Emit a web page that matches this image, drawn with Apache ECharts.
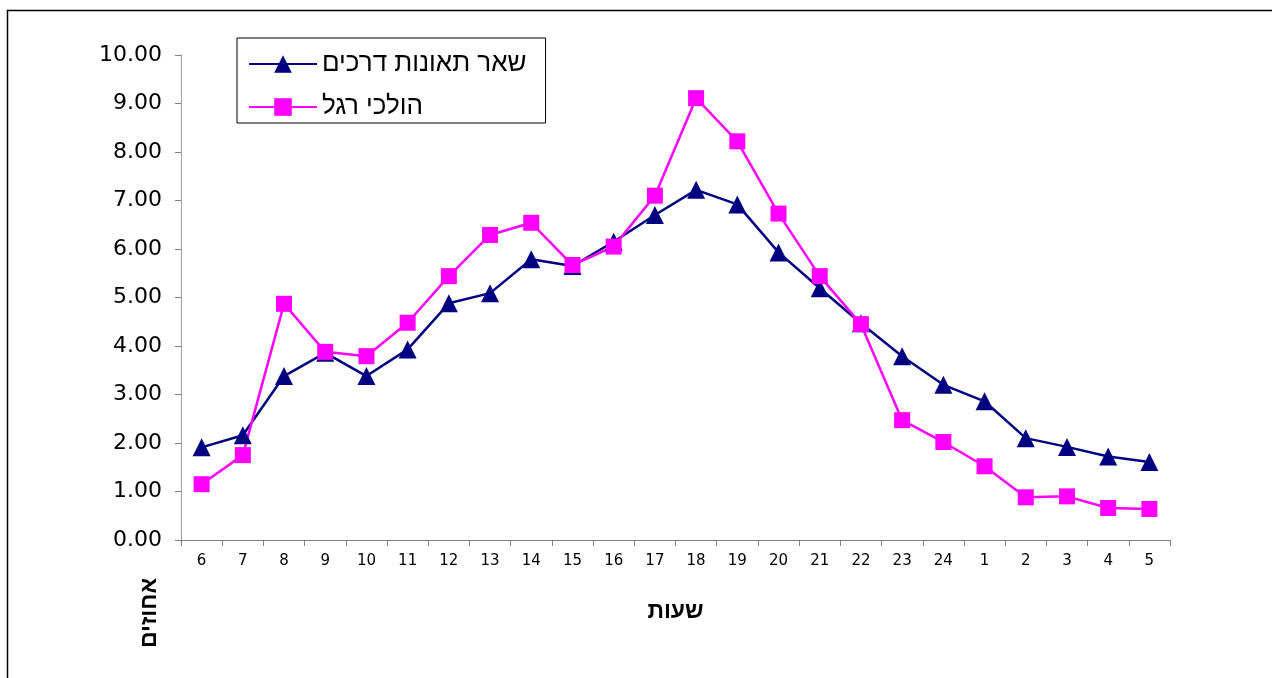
<!DOCTYPE html>
<html>
<head>
<meta charset="utf-8">
<script src="https://cdn.jsdelivr.net/npm/echarts@6/dist/echarts.min.js"></script>
<style>
  html, body { margin: 0; padding: 0; background: #fff; }
  #chart { width: 1272px; height: 678px; }
</style>
</head>
<body>
<div id="chart"></div>
<script>
const hours = ['6', '7', '8', '9', '10', '11', '12', '13', '14', '15', '16', '17',
    '18', '19', '20', '21', '22', '23', '24', '1', '2', '3', '4', '5'];
// שאר תאונות דרכים
const otherAccidents = [1.91, 2.16, 3.38, 3.86, 3.38, 3.93, 4.88, 5.09, 5.79, 5.65, 6.15, 6.70,
    7.22, 6.92, 5.93, 5.19, 4.47, 3.79, 3.20, 2.86, 2.10, 1.92, 1.72, 1.61];
// הולכי רגל
const pedestrians = [1.15, 1.75, 4.87, 3.88, 3.79, 4.48, 5.44, 6.29, 6.54, 5.67, 6.05, 7.10,
    9.11, 8.22, 6.73, 5.44, 4.45, 2.47, 2.02, 1.52, 0.88, 0.90, 0.66, 0.64];

const numFont = "'DejaVu Sans', 'Liberation Sans', Arial, sans-serif";
const hebFont = "'Liberation Sans', 'DejaVu Sans', Arial, sans-serif";
const chart = echarts.init(document.getElementById('chart'));

chart.setOption({
    animation: false,
    textStyle: { fontFamily: numFont },
    grid: { left: 181, right: 102, top: 55, bottom: 138 },
    // outer frame and rotated y title
    graphic: [
        {
            type: 'rect',
            left: 5, top: 8,
            shape: { width: 1400, height: 800 },
            style: { fill: 'none', stroke: '#000', lineWidth: 1.5 }
        },
        {
            type: 'text',
            x: 150, y: 613,
            rotation: Math.PI / 2,
            style: {
                text: 'אחוזים',
                font: 'bold 23px ' + hebFont,
                fill: '#000',
                align: 'center',
                verticalAlign: 'middle'
            }
        }
    ],
    legend: {
        orient: 'vertical',
        left: 237, top: 38,
        padding: [13, 19, 3, 11],
        itemGap: 17,
        itemWidth: 68,
        itemHeight: 22,
        borderColor: '#000',
        borderWidth: 1,
        textStyle: { fontSize: 26, lineHeight: 26, color: '#000', fontFamily: hebFont },
        data: ['שאר תאונות דרכים', 'הולכי רגל']
    },
    xAxis: {
        type: 'category',
        data: hours,
        boundaryGap: true,
        name: 'שעות',
        nameLocation: 'middle',
        nameGap: 60,
        nameTextStyle: { fontSize: 23, fontWeight: 'bold', color: '#000', fontFamily: hebFont },
        axisLine: { lineStyle: { color: '#808080', width: 1 } },
        axisTick: { show: true, length: 6, lineStyle: { color: '#808080' } },
        axisLabel: { fontSize: 15, color: '#000', margin: 14 }
    },
    yAxis: {
        type: 'value',
        min: 0, max: 10, interval: 1,
        axisLine: { show: true, lineStyle: { color: '#a0a0a0', width: 1 } },
        axisTick: { show: true, length: 6, lineStyle: { color: '#808080' } },
        splitLine: { show: false },
        axisLabel: {
            fontSize: 22, color: '#000', margin: 19,
            formatter: v => v.toFixed(2)
        }
    },
    series: [
        {
            name: 'שאר תאונות דרכים',
            type: 'line',
            data: otherAccidents,
            symbol: 'triangle',
            symbolSize: 18,
            lineStyle: { color: '#000080', width: 2.5 },
            itemStyle: { color: '#000080' }
        },
        {
            name: 'הולכי רגל',
            type: 'line',
            data: pedestrians,
            symbol: 'rect',
            symbolSize: 16,
            lineStyle: { color: '#ff00ff', width: 2.5 },
            itemStyle: { color: '#ff00ff' }
        }
    ]
});
</script>
</body>
</html>
